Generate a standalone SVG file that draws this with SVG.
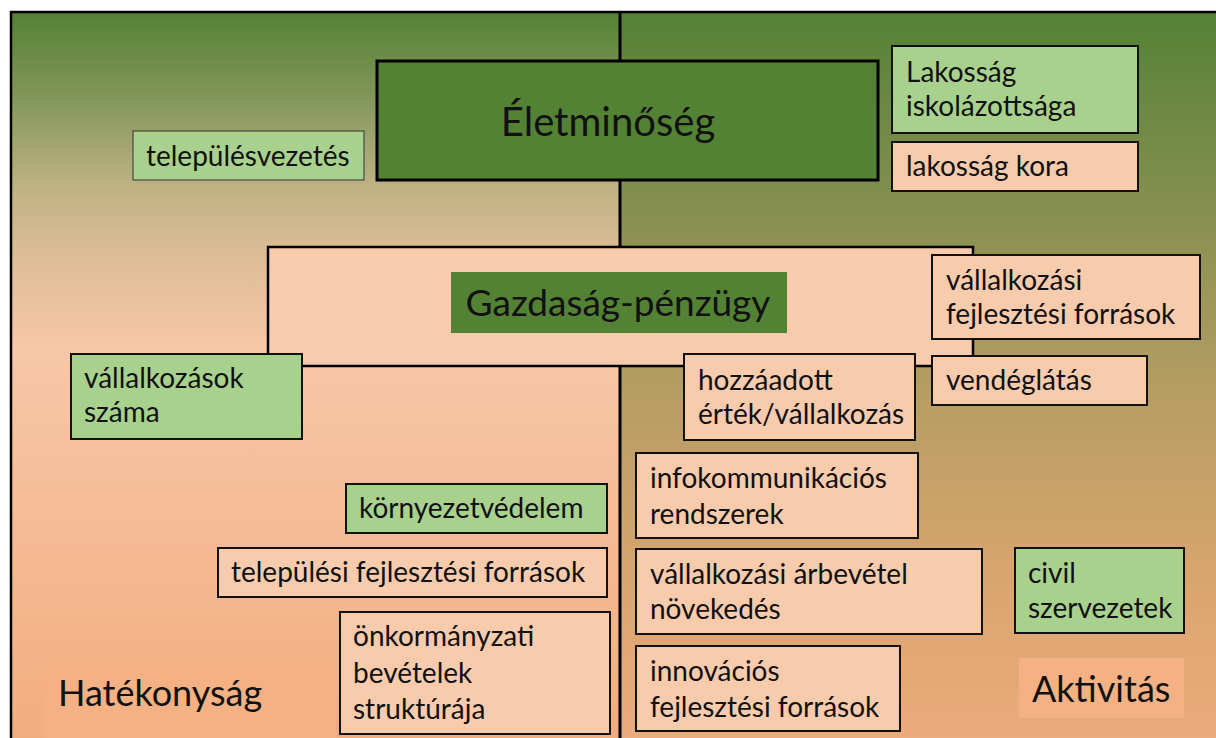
<svg xmlns="http://www.w3.org/2000/svg" width="1216" height="738" viewBox="0 0 1216 738">
<defs>
<linearGradient id="gl" x1="0" y1="12" x2="0" y2="738" gradientUnits="userSpaceOnUse">
<stop offset="0" stop-color="#548235"/>
<stop offset="0.12" stop-color="#83975a"/>
<stop offset="0.24" stop-color="#bfb283"/>
<stop offset="0.33" stop-color="#dbbc95"/>
<stop offset="0.46" stop-color="#f7c7a8"/>
<stop offset="1" stop-color="#f2ad7f"/>
</linearGradient>
<linearGradient id="gr" x1="0" y1="12" x2="0" y2="738" gradientUnits="userSpaceOnUse">
<stop offset="0" stop-color="#548235"/>
<stop offset="0.3" stop-color="#8b9152"/>
<stop offset="0.52" stop-color="#b59d63"/>
<stop offset="0.78" stop-color="#d9a56f"/>
<stop offset="1" stop-color="#ebab7c"/>
</linearGradient>
<style>
text{font-family:Lato,"Liberation Sans",sans-serif;fill:#111;}
.t{font-size:28px;}
.big1{font-size:40px;}
.big2{font-size:37px;}
.lab{font-size:36px;}
.pe{fill:#f8cbad;stroke:#111;stroke-width:2;}
.gr{fill:#a9d18e;stroke:#111;stroke-width:2;}
.gr1{fill:#a9d18e;stroke:#333;stroke-width:1;}
</style>
</defs>
<rect x="11" y="12" width="609" height="730" fill="url(#gl)"/>
<rect x="620" y="12" width="600" height="730" fill="url(#gr)"/>
<rect x="11" y="12" width="1210" height="730" fill="none" stroke="#000" stroke-width="2.5"/>
<g id="connectors">
<line x1="620" y1="12" x2="620" y2="738" stroke="#000" stroke-width="3"/>
</g>
<g id="eletminoseg">
<rect x="377" y="61" width="501" height="119" fill="#548235" stroke="#000" stroke-width="3"/>
<text class="big1" x="608" y="136" text-anchor="middle">Életminőség</text>
</g>
<g id="telepulesvezetes">
<rect class="gr1" x="133" y="131" width="231" height="49"/>
<text class="t" x="146" y="166">településvezetés</text>
</g>
<g id="lakossag-iskolazottsaga">
<rect class="gr" x="892" y="46" width="246" height="87"/>
<text class="t" x="906" y="82">Lakosság</text>
<text class="t" x="906" y="116">iskolázottsága</text>
</g>
<g id="lakossag-kora">
<rect class="pe" x="892" y="142" width="246" height="49"/>
<text class="t" x="906" y="176">lakosság kora</text>
</g>
<g id="gazdasag">
<rect x="268" y="247" width="705" height="119" fill="#f8cbad" stroke="#000" stroke-width="2.5"/>
<rect x="451" y="272" width="336" height="61" fill="#548235"/>
<text class="big2" x="618" y="316" text-anchor="middle">Gazdaság-pénzügy</text>
</g>
<g id="vallalkozasi-fejlesztesi">
<rect class="pe" x="932" y="255" width="268" height="84"/>
<text class="t" x="946" y="290">vállalkozási</text>
<text class="t" x="946" y="324">fejlesztési források</text>
</g>
<g id="vendeglatas">
<rect class="pe" x="932" y="356" width="215" height="49"/>
<text class="t" x="946" y="390">vendéglátás</text>
</g>
<g id="hozzaadott">
<rect class="pe" x="684" y="354" width="231" height="86"/>
<text class="t" x="698" y="390">hozzáadott</text>
<text class="t" x="698" y="424">érték/vállalkozás</text>
</g>
<g id="vallalkozasok-szama">
<rect class="gr" x="71" y="354" width="231" height="85"/>
<text class="t" x="84" y="388">vállalkozások</text>
<text class="t" x="84" y="422">száma</text>
</g>
<g id="kornyezetvedelem">
<rect class="gr" x="346" y="484" width="261" height="49"/>
<text class="t" x="359" y="518">környezetvédelem</text>
</g>
<g id="telepulesi-fejlesztesi">
<rect class="pe" x="218" y="548" width="389" height="49"/>
<text class="t" x="231" y="582">települési fejlesztési források</text>
</g>
<g id="onkormanyzati">
<rect class="pe" x="340" y="612" width="270" height="122"/>
<text class="t" x="353" y="646">önkormányzati</text>
<text class="t" x="353" y="683">bevételek</text>
<text class="t" x="353" y="719">struktúrája</text>
</g>
<g id="infokommunikacios">
<rect class="pe" x="636" y="453" width="282" height="85"/>
<text class="t" x="650" y="488">infokommunikációs</text>
<text class="t" x="650" y="524">rendszerek</text>
</g>
<g id="arbevetel">
<rect class="pe" x="636" y="549" width="346" height="85"/>
<text class="t" x="650" y="584">vállalkozási árbevétel</text>
<text class="t" x="650" y="619">növekedés</text>
</g>
<g id="innovacios">
<rect class="pe" x="636" y="646" width="264" height="85"/>
<text class="t" x="650" y="681">innovációs</text>
<text class="t" x="650" y="717">fejlesztési források</text>
</g>
<g id="civil">
<rect class="gr" x="1015" y="548" width="169" height="85"/>
<text class="t" x="1028" y="583">civil</text>
<text class="t" x="1028" y="618">szervezetek</text>
</g>
<g id="hatekonysag">
<rect x="44" y="660" width="292" height="80" fill="#f4b183"/>
<text class="lab" x="58" y="706">Hatékonyság</text>
</g>
<g id="aktivitas">
<rect x="1019" y="658" width="165" height="60" fill="#f4b183"/>
<text class="lab" x="1032" y="702">Aktivitás</text>
</g>
</svg>
